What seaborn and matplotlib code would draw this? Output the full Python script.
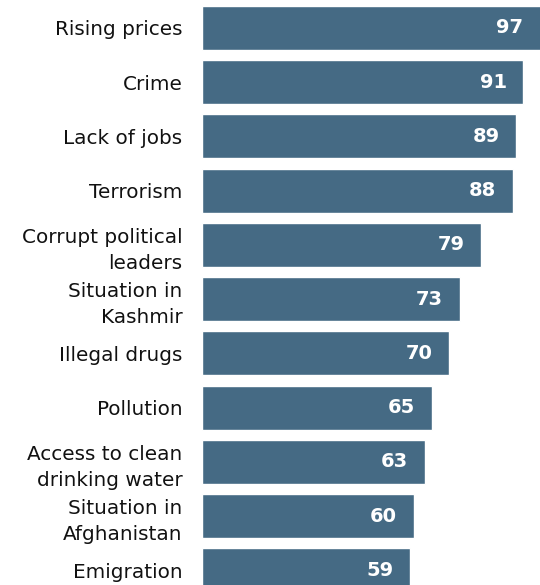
import matplotlib
matplotlib.use("Agg")
import matplotlib.pyplot as plt
import seaborn as sns
import pandas as pd

categories = ["Rising prices", "Crime", "Lack of jobs", "Terrorism",
              "Corrupt political\nleaders", "Situation in\nKashmir", "Illegal drugs",
              "Pollution", "Access to clean\ndrinking water", "Situation in\nAfghanistan",
              "Emigration"]
values = [97, 91, 89, 88, 79, 73, 70, 65, 63, 60, 59]

df = pd.DataFrame({"category": categories, "value": values})

sns.set_style("white")
plt.rcParams['font.family'] = ['DejaVu Sans']

fig = plt.figure(figsize=(5.4, 5.85), dpi=100)
ax = fig.add_axes([202/540, 0, 1 - 202/540, 1])
sns.barplot(data=df, x="value", y="category", orient="h", color="#456a84",
            saturation=1, width=0.81, ax=ax)

ax.set_xlim(0, 95.7)
ax.set_ylim(10.27, -0.516)
ax.set_xlabel("")
ax.set_ylabel("")
ax.set_xticks([])
for s in ax.spines.values():
    s.set_visible(False)
ax.tick_params(axis="y", length=0, pad=14, labelsize=14.4, labelcolor="#111111")
for lab in ax.get_yticklabels():
    lab.set_linespacing(1.48)
    lab.set_horizontalalignment("right")

for i, v in enumerate(values):
    ax.annotate(str(v), xy=(min(v, 95.7), i), xytext=(-12, 0), textcoords="offset points",
                ha="right", va="center", color="white", fontsize=14, fontweight="bold")

fig.savefig("out.png", dpi=100)
